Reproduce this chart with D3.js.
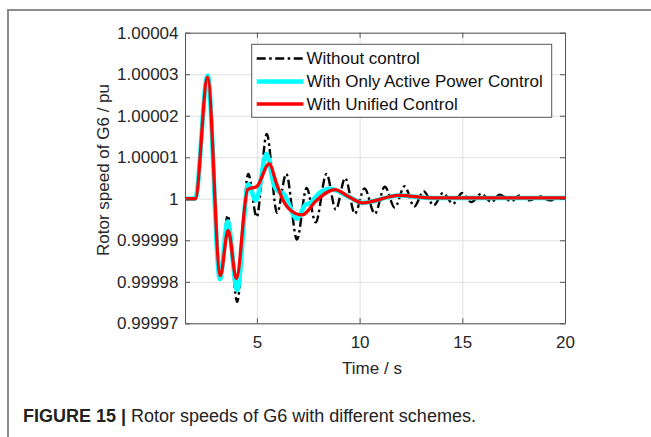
<!DOCTYPE html>
<html>
<head>
<meta charset="utf-8">
<script src="https://cdn.jsdelivr.net/npm/d3@7"></script>
<style>
  html, body { margin: 0; padding: 0; background: #fff; }
  svg { display: block; }
  text { font-family: "Liberation Sans", Arial, Helvetica, sans-serif; }
</style>
</head>
<body>
<svg id="chart" width="651" height="437"></svg>
<script>
// ---- Data (deviation of rotor speed from 1 pu, in units of 1e-5 pu) ----
const timeWithout = [1.5, 2.0, 2.6, 3.2, 3.58, 4.04, 4.58, 4.99, 5.48, 5.98, 6.43, 6.95, 7.42, 7.86, 8.39, 8.84, 9.3, 9.77, 10.24, 10.74, 11.23, 11.71, 12.19, 12.66, 13.12, 13.61, 14.06, 14.55, 14.99, 15.44, 15.93, 16.42, 16.82, 17.39, 17.79, 18.28, 18.77, 19.25, 19.82, 20];
const devWithout  = [0, 0, 2.95, -1.9, -0.40, -2.48, 0.60, -0.44, 1.56, -0.34, 0.60, -0.98, 0.26, -0.57, 0.60, -0.26, 0.50, -0.36, 0.25, -0.36, 0.29, -0.21, 0.30, -0.19, 0.18, -0.16, 0.14, -0.12, 0.14, -0.08, 0.12, -0.08, 0.10, -0.06, 0.08, -0.04, 0.06, -0.04, 0.04, 0.02];

const timeActive = [1.5, 2.0, 2.6, 3.2, 3.58, 4.04, 4.58, 4.95, 5.47, 5.85, 6.05, 6.3, 6.95, 7.35, 7.6, 8.0, 8.55, 9.5, 10.15, 11.9, 13.5, 20];
const devActive  = [0, 0, 2.97, -1.93, -0.55, -2.2, 0.35, -0.04, 1.08, 0.3, 0.18, 0.12, -0.48, -0.15, -0.1, 0.12, 0.24, 0.04, -0.1, 0.08, 0.02, 0.02];

const timeUnified = [1.5, 2.0, 2.6, 3.22, 3.6, 4.0, 4.55, 5.0, 5.6, 5.96, 6.28, 6.7, 7.2, 7.9, 8.8, 9.5, 10.15, 11.9, 13.5, 20];
const devUnified  = [0, 0, 2.93, -1.85, -0.76, -1.92, 0.22, 0.3, 0.84, 0.36, -0.04, -0.3, -0.39, -0.04, 0.22, 0.04, -0.10, 0.08, 0.02, 0.02];

const seriesNames = ["Without control", "With Only Active Power Control", "With Unified Control"];
const xTicks = [5, 10, 15, 20];
const yTicks = [0.99997, 0.99998, 0.99999, 1, 1.00001, 1.00002, 1.00003, 1.00004];
const yTickLabels = ["0.99997", "0.99998", "0.99999", "1", "1.00001", "1.00002", "1.00003", "1.00004"];
const xLabel = "Time / s";
const yLabel = "Rotor speed of G6 / pu";
const captionBold = "FIGURE 15 | ";
const captionText = "Rotor speeds of G6 with different schemes.";

// ---- Layout ----
const svg = d3.select("#chart");
const X0 = 185, X1 = 565, Y0 = 32.7, Y1 = 323.3;
const x = d3.scaleLinear().domain([1.5, 20]).range([X0, X1]);
const y = d3.scaleLinear().domain([0.99997, 1.00004]).range([Y1, Y0]);

svg.append("rect").attr("width", 651).attr("height", 437).attr("fill", "#fff");
// outer figure frame
svg.append("rect").attr("x", 8).attr("y", 10).attr("width", 800).attr("height", 600)
  .attr("fill", "none").attr("stroke", "#8c8c8c").attr("stroke-width", 2);

const toPts = (ts, ds) => ts.map((t, i) => [t, 1 + ds[i] * 1e-5]);
const series = [
  { name: seriesNames[0], pts: toPts(timeWithout, devWithout), color: "#000", width: 2.4, dash: "9,3.5,2.5,3.5" },
  { name: seriesNames[1], pts: toPts(timeActive, devActive), color: "#00ffff", width: 4.6, dash: null },
  { name: seriesNames[2], pts: toPts(timeUnified, devUnified), color: "#ff0000", width: 3.3, dash: null }
];

// grid
const grid = svg.append("g");
grid.append("g").attr("transform", `translate(0,${Y1})`)
  .call(d3.axisBottom(x).tickValues(xTicks).tickSize(-(Y1 - Y0)).tickFormat(""))
  .call(g => g.select(".domain").remove())
  .call(g => g.selectAll("line").attr("stroke", "#e0e0e0").attr("stroke-width", 1));
grid.append("g").attr("transform", `translate(${X0},0)`)
  .call(d3.axisLeft(y).tickValues(yTicks).tickSize(-(X1 - X0)).tickFormat(""))
  .call(g => g.select(".domain").remove())
  .call(g => g.selectAll("line").attr("stroke", "#e0e0e0").attr("stroke-width", 1));

// lines
svg.append("clipPath").attr("id", "clip").append("rect")
  .attr("x", X0).attr("y", Y0).attr("width", X1 - X0).attr("height", Y1 - Y0);
const line = d3.line().x(d => x(d[0])).y(d => y(d[1])).curve(d3.curveMonotoneX);
const lines = svg.append("g").attr("clip-path", "url(#clip)");
series.forEach(s => {
  lines.append("path").datum(s.pts).attr("d", line)
    .attr("fill", "none").attr("stroke", s.color).attr("stroke-width", s.width)
    .attr("stroke-linejoin", "round")
    .attr("stroke-dasharray", s.dash);
});

// axes (box, inward ticks)
const axisColor = "#555";
const tickTextColor = "#262626";
const styleAxis = g => {
  g.select(".domain").attr("stroke", axisColor);
  g.selectAll(".tick line").attr("stroke", axisColor);
  g.selectAll(".tick text").attr("fill", tickTextColor)
    .style("font-size", "17px").style("font-family", '"Liberation Sans", Arial, sans-serif');
};
svg.append("g").attr("transform", `translate(0,${Y1})`)
  .call(d3.axisBottom(x).tickValues(xTicks).tickSize(-5).tickSizeOuter(0).tickPadding(13).tickFormat(d3.format("d")))
  .call(styleAxis);
svg.append("g").attr("transform", `translate(0,${Y0})`)
  .call(d3.axisTop(x).tickValues(xTicks).tickSize(-5).tickSizeOuter(0).tickFormat(""))
  .call(styleAxis);
svg.append("g").attr("transform", `translate(${X0},0)`)
  .call(d3.axisLeft(y).tickValues(yTicks).tickSize(-5).tickSizeOuter(0).tickPadding(6.5)
    .tickFormat((d, i) => yTickLabels[i]))
  .call(styleAxis);
svg.append("g").attr("transform", `translate(${X1},0)`)
  .call(d3.axisRight(y).tickValues(yTicks).tickSize(-5).tickSizeOuter(0).tickFormat(""))
  .call(styleAxis);

// axis labels
svg.append("text").attr("x", 372).attr("y", 374).attr("text-anchor", "middle")
  .attr("fill", tickTextColor).style("font-size", "17px").text(xLabel);
svg.append("text").attr("transform", "translate(103,170) rotate(-90)").attr("dy", "0.35em")
  .attr("text-anchor", "middle").attr("fill", tickTextColor).style("font-size", "17px").text(yLabel);

// legend
const lg = svg.append("g");
lg.append("rect").attr("x", 251.7).attr("y", 44.3).attr("width", 300).attr("height", 73)
  .attr("fill", "#fff").attr("stroke", "#555").attr("stroke-width", 1);
const rowY = [58.5, 81.5, 104];
series.forEach((s, i) => {
  lg.append("line").attr("x1", 256.7).attr("x2", 303.3).attr("y1", rowY[i]).attr("y2", rowY[i])
    .attr("stroke", s.color).attr("stroke-width", s.width).attr("stroke-dasharray", s.dash);
  lg.append("text").attr("x", 306.5).attr("y", rowY[i]).attr("dy", "0.35em")
    .attr("fill", "#111").style("font-size", "17px").text(s.name);
});

// caption
const cap = svg.append("text").attr("x", 23).attr("y", 421.5).attr("fill", "#222").style("font-size", "18px");
cap.append("tspan").style("font-weight", "bold").text(captionBold);
cap.append("tspan").text(captionText);
</script>
</body>
</html>
